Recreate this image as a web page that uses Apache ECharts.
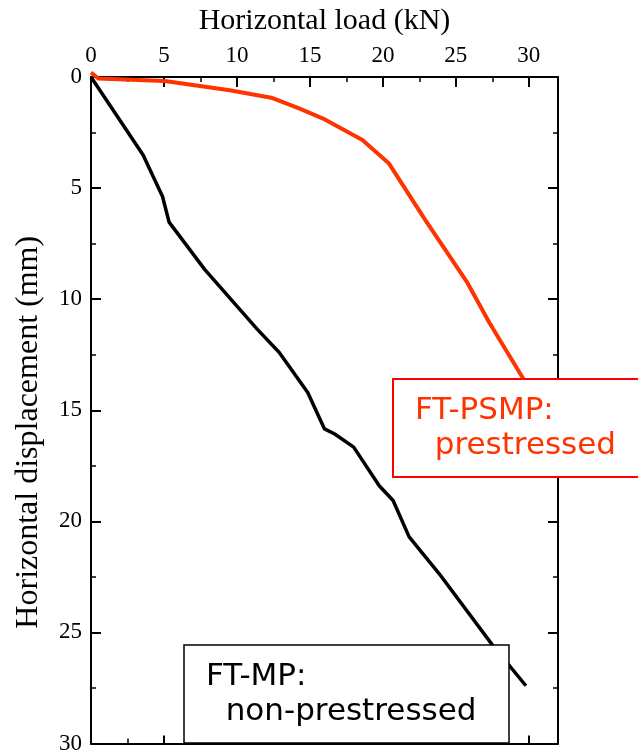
<!DOCTYPE html>
<html lang="en">
<head>
    <meta charset="UTF-8">
    <title>Load - displacement</title>
    <script src="https://cdn.jsdelivr.net/npm/echarts@6/dist/echarts.min.js"></script>
    <style>
        * { margin: 0; padding: 0; }
        body { background: #fff; }
        #chart { width: 638px; height: 755px; }
    </style>
</head>
<body>
    <div id="chart"></div>
<script>
    // FT-MP (non-prestressed)
    var loadMP = [0, 3.57, 4.9, 5.35, 7.8, 11.4, 12.9, 14.85, 16.0, 16.7, 18.0, 19.75, 20.7, 21.8, 23.85, 27.5, 29.8];
    var dispMP = [0, 3.51, 5.38, 6.53, 8.67, 11.36, 12.4, 14.2, 15.84, 16.07, 16.66, 18.4, 19.06, 20.7, 22.35, 25.56, 27.4];
    // FT-PSMP (prestressed)
    var loadPSMP = [0, 0.5, 5.06, 9.5, 12.35, 14.3, 15.9, 18.6, 20.4, 22.9, 25.8, 27.3, 29.55, 30.0];
    var dispPSMP = [-0.2, 0.07, 0.18, 0.6, 0.93, 1.42, 1.87, 2.84, 3.88, 6.43, 9.27, 11.06, 13.5, 14.1];

    function pairs(xs, ys) {
        var out = [];
        for (var i = 0; i < xs.length; i++) out.push([xs[i], ys[i]]);
        return out;
    }

    var serif = 'Liberation Serif';
    var sans = 'DejaVu Sans';
    var axisLine = { show: true, onZero: false, lineStyle: { color: '#000', width: 2 } };
    var minor = { show: true, splitNumber: 2, length: 5, lineStyle: { color: '#000', width: 1.5 } };
    function tick(len) {
        return { show: true, inside: true, length: len, lineStyle: { color: '#000', width: 2 } };
    }

    var chart = echarts.init(document.getElementById('chart'));
    chart.setOption({
        animation: false,
        grid: { left: 91, top: 77, width: 467, height: 669 },
        xAxis: [{
            type: 'value', position: 'top', min: 0, max: 32, interval: 5,
            name: 'Horizontal load (kN)', nameLocation: 'middle', nameGap: 41,
            nameTextStyle: { fontFamily: serif, fontSize: 30, color: '#000' },
            axisLine: axisLine, axisTick: tick(10), minorTick: minor,
            axisLabel: { fontFamily: serif, fontSize: 23, color: '#000', margin: 10, showMaxLabel: false },
            splitLine: { show: false }
        }, {
            type: 'value', position: 'bottom', min: 0, max: 32, interval: 5,
            axisLine: axisLine, axisTick: tick(8), minorTick: minor,
            axisLabel: { show: false },
            splitLine: { show: false }
        }],
        yAxis: [{
            type: 'value', inverse: true, min: 0, max: 30, interval: 5,
            name: 'Horizontal displacement (mm)', nameLocation: 'middle', nameGap: 46,
            nameTextStyle: { fontFamily: serif, fontSize: 32, color: '#000', padding: [0, 44, 0, 0] },
            axisLine: axisLine, axisTick: tick(10), minorTick: minor,
            axisLabel: { fontFamily: serif, fontSize: 23, color: '#000', margin: 9 },
            splitLine: { show: false }
        }, {
            type: 'value', inverse: true, position: 'right', min: 0, max: 30, interval: 5,
            axisLine: axisLine, axisTick: tick(10), minorTick: minor,
            axisLabel: { show: false },
            splitLine: { show: false }
        }],
        series: [{
            name: 'FT-MP', type: 'line', showSymbol: false, clip: false,
            data: pairs(loadMP, dispMP),
            lineStyle: { color: '#000', width: 3.5 }
        }, {
            name: 'FT-PSMP', type: 'line', showSymbol: false, clip: false,
            data: pairs(loadPSMP, dispPSMP),
            lineStyle: { color: '#ff3300', width: 4 }
        }],
        graphic: [{
            type: 'rect', z: 100, shape: { x: 393, y: 379, width: 260, height: 98 },
            style: { fill: '#fff', stroke: '#ff0000', lineWidth: 2 }
        }, {
            type: 'text', z: 101, style: {
                x: 415, y: 428, text: 'FT-PSMP:\n  prestressed',
                fontFamily: sans, fontSize: 31, lineHeight: 35,
                fill: '#ff3300', verticalAlign: 'middle'
            }
        }, {
            type: 'rect', z: 100, shape: { x: 184, y: 645, width: 325, height: 98 },
            style: { fill: '#fff', stroke: '#000', lineWidth: 1.5 }
        }, {
            type: 'text', z: 101, style: {
                x: 206, y: 694, text: 'FT-MP:\n  non-prestressed',
                fontFamily: sans, fontSize: 31, lineHeight: 35,
                fill: '#000', verticalAlign: 'middle'
            }
        }]
    });
</script>
</body>
</html>
